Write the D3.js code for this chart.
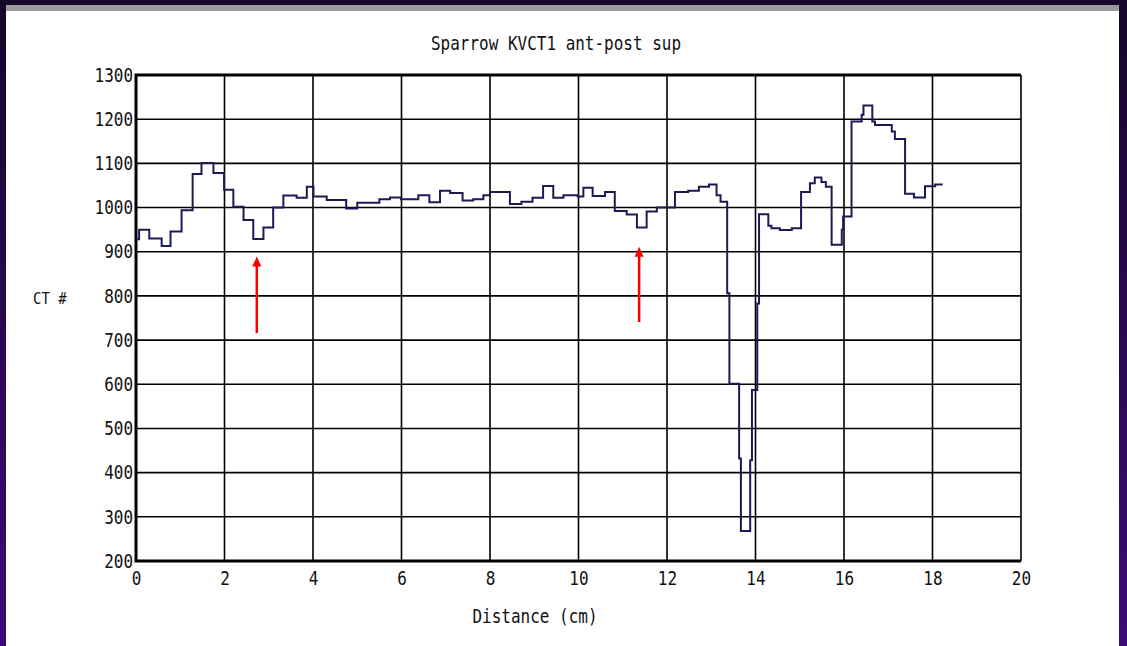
<!DOCTYPE html>
<html>
<head>
<meta charset="utf-8">
<script src="https://cdn.jsdelivr.net/npm/d3@7"></script>
<style>
  body { margin: 0; background: #fff; }
  text { font-family: "DejaVu Sans Mono", "Liberation Mono", monospace; fill: #111; }
</style>
</head>
<body>
<div id="chart"></div>
<script>
// step profile: distance where each step starts, and its CT number
var distance = [0, 0.07, 0.30, 0.58, 0.78, 1.03, 1.28, 1.48, 1.75, 1.99,
  2.20, 2.43, 2.65, 2.88, 3.10, 3.33, 3.63, 3.86, 4.01, 4.31,
  4.75, 5.00, 5.50, 5.74, 5.99, 6.38, 6.63, 6.87, 7.10, 7.38,
  7.62, 7.85, 8.00, 8.45, 8.71, 8.96, 9.20, 9.43, 9.66, 9.98,
  10.11, 10.32, 10.60, 10.82, 11.09, 11.32, 11.54, 11.77, 12.18, 12.48,
  12.72, 12.95, 13.12, 13.21, 13.36, 13.41, 13.63, 13.67, 13.88, 13.92,
  14.04, 14.08, 14.29, 14.36, 14.55, 14.82, 15.03, 15.23, 15.34, 15.49,
  15.59, 15.72, 15.95, 15.98, 16.17, 16.40, 16.44, 16.64, 16.70, 17.08,
  17.15, 17.38, 17.58, 17.83, 18.06, 18.23];
var ctValue = [928, 950, 930, 913, 946, 994, 1076, 1101, 1078, 1040,
  1002, 972, 929, 955, 1000, 1027, 1022, 1047, 1025, 1017,
  998, 1011, 1019, 1023, 1019, 1028, 1012, 1038, 1033, 1016,
  1019, 1028, 1035, 1008, 1013, 1022, 1049, 1022, 1028, 1025,
  1045, 1026, 1035, 992, 984, 955, 991, 1000, 1035, 1038,
  1047, 1052, 1028, 1013, 806, 601, 432, 268, 428, 587,
  783, 985, 959, 953, 949, 953, 1035, 1055, 1068, 1058,
  1047, 916, 950, 980, 1195, 1210, 1231, 1195, 1187, 1172,
  1155, 1031, 1023, 1048, 1052, 1052];

var xTicks = [0, 2, 4, 6, 8, 10, 12, 14, 16, 18, 20];
var yTicks = [200, 300, 400, 500, 600, 700, 800, 900, 1000, 1100, 1200, 1300];

// red arrows: [distance, tail CT, tip CT]
var arrowX = [2.73, 11.37];
var arrowTail = [716, 741];
var arrowTip = [889, 911];

var svgWidth = 1127;
var svgHeight = 646;
var margin = { top: 75, right: 106, bottom: 85, left: 136 };
var width = svgWidth - margin.left - margin.right;
var height = svgHeight - margin.top - margin.bottom;
var stretch = 1.18; // the screen font is tall and narrow

var svg = d3.select("#chart").append("svg")
  .attr("width", svgWidth)
  .attr("height", svgHeight);

// frame around the slide
var grad = svg.append("defs").append("linearGradient")
  .attr("id", "edge").attr("x1", 0).attr("y1", 0).attr("x2", 0).attr("y2", 1);
grad.append("stop").attr("offset", "0%").attr("stop-color", "#16062a");
grad.append("stop").attr("offset", "100%").attr("stop-color", "#3c0a78");
svg.append("rect").attr("width", svgWidth).attr("height", svgHeight).attr("fill", "url(#edge)");
svg.append("rect").attr("x", 6).attr("y", 5).attr("width", svgWidth - 14).attr("height", 6).attr("fill", "#9a9a9a");
svg.append("rect").attr("x", 6).attr("y", 11).attr("width", svgWidth - 14).attr("height", svgHeight - 11).attr("fill", "#fff");

var chartGroup = svg.append("g")
  .attr("transform", `translate(${margin.left}, ${margin.top})`);

var xScale = d3.scaleLinear().domain([0, 20]).range([0, width]);
var yScale = d3.scaleLinear().domain([200, 1300]).range([height, 0]);

// grid
chartGroup.selectAll(".vgrid").data(xTicks).enter().append("line")
  .attr("x1", d => xScale(d)).attr("x2", d => xScale(d))
  .attr("y1", 0).attr("y2", height)
  .attr("stroke", "#000").attr("stroke-width", 1.6);
chartGroup.selectAll(".hgrid").data(yTicks).enter().append("line")
  .attr("x1", 0).attr("x2", width)
  .attr("y1", d => yScale(d)).attr("y2", d => yScale(d))
  .attr("stroke", "#000").attr("stroke-width", 1.6);

// thick frame on left, top, bottom
chartGroup.append("path")
  .attr("d", `M${width},0H0V${height}H${width}`)
  .attr("fill", "none").attr("stroke", "#000").attr("stroke-width", 3);

// tick labels
var leftAxis = d3.axisLeft(yScale).tickValues(yTicks).tickFormat(d3.format("d")).tickSize(0).tickPadding(3);
var yAxis = chartGroup.append("g").call(leftAxis);
yAxis.select(".domain").remove();
yAxis.selectAll("text")
  .attr("font-family", null)
  .style("font-size", "16px")
  .attr("dy", "0.33em")
  .attr("transform", `scale(1, ${stretch})`);

var bottomAxis = d3.axisBottom(xScale).tickValues(xTicks).tickFormat(d3.format("d")).tickSize(0).tickPadding(9);
var xAxis = chartGroup.append("g").attr("transform", `translate(0, ${height})`).call(bottomAxis);
xAxis.select(".domain").remove();
xAxis.selectAll("text")
  .attr("font-family", null)
  .style("font-size", "16px")
  .attr("transform", `scale(1, ${stretch})`);

// the profile
var profile = distance.map((d, i) => ({ x: d, y: ctValue[i] }));
var line = d3.line()
  .x(d => xScale(d.x))
  .y(d => yScale(d.y))
  .curve(d3.curveStepAfter);
chartGroup.append("path")
  .datum(profile)
  .attr("d", line)
  .attr("fill", "none")
  .attr("stroke", "#1c1a55")
  .attr("stroke-width", 2);

// red arrows
var arrows = chartGroup.selectAll(".arrow").data(arrowX).enter().append("g");
arrows.append("line")
  .attr("x1", d => xScale(d)).attr("x2", d => xScale(d))
  .attr("y1", (d, i) => yScale(arrowTail[i]))
  .attr("y2", (d, i) => yScale(arrowTip[i]) + 6)
  .attr("stroke", "#ff0000").attr("stroke-width", 2.5);
arrows.append("path")
  .attr("d", (d, i) => {
    var x = xScale(d), y = yScale(arrowTip[i]);
    return `M${x},${y}L${x - 4.5},${y + 10}L${x + 4.5},${y + 10}Z`;
  })
  .attr("fill", "#ff0000");

// titles
svg.append("text")
  .attr("transform", `translate(556, 50) scale(1, ${stretch})`)
  .attr("text-anchor", "middle")
  .style("font-size", "16px")
  .text("Sparrow KVCT1 ant-post sup");
svg.append("text")
  .attr("transform", `translate(535, 623) scale(1, ${stretch})`)
  .attr("text-anchor", "middle")
  .style("font-size", "16px")
  .text("Distance (cm)");
svg.append("text")
  .attr("transform", `translate(33, 304) scale(1, ${stretch})`)
  .style("font-size", "14px")
  .text("CT #");
</script>
</body>
</html>
